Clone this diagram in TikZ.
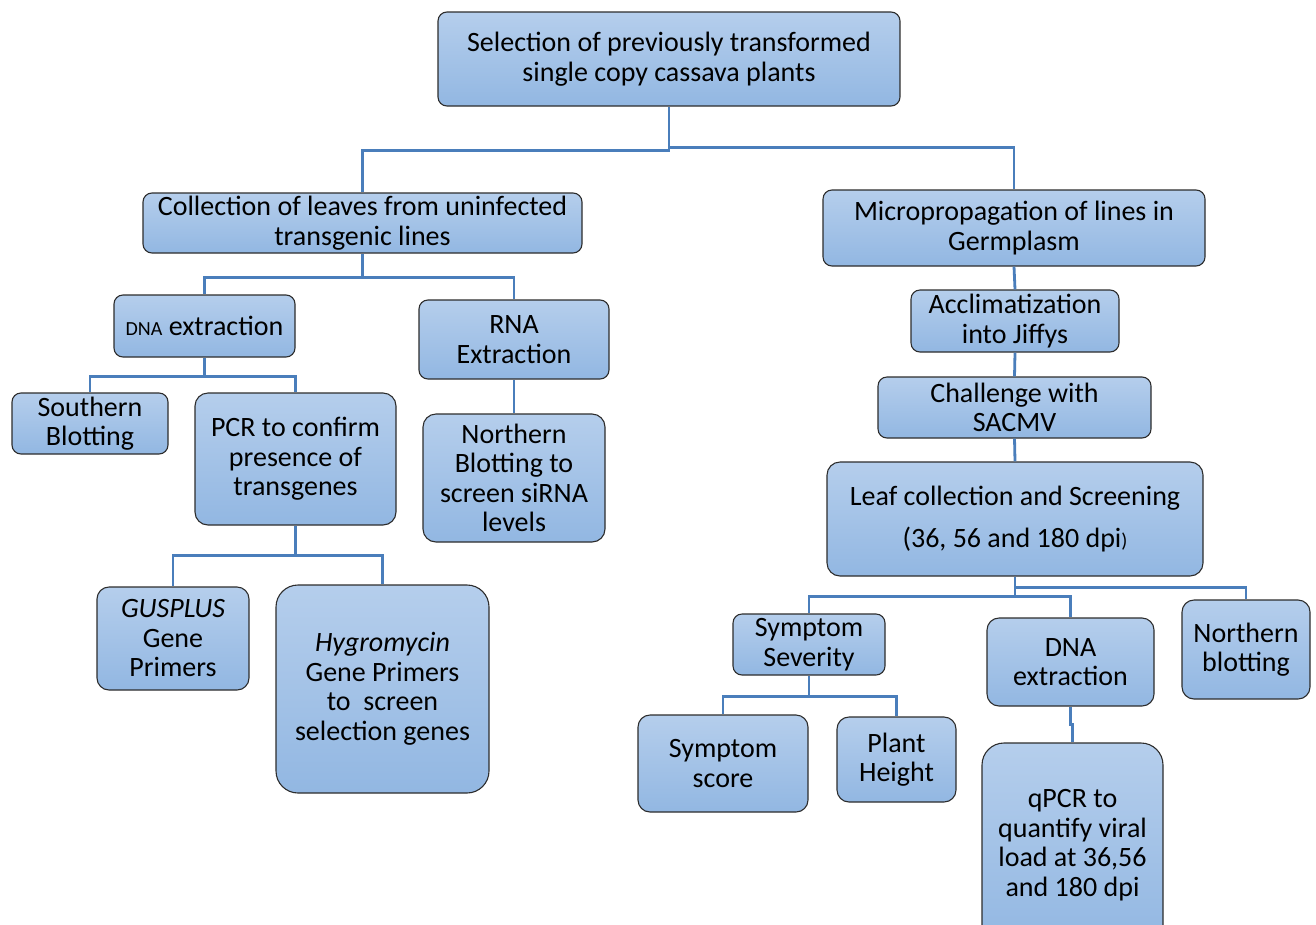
\documentclass[tikz,border=0pt]{standalone}
\usepackage{fontspec}
\setmainfont{Carlito}
\usetikzlibrary{calc}
\definecolor{boxtop}{RGB}{181,206,236}
\definecolor{boxbot}{RGB}{146,183,226}
\definecolor{conncol}{RGB}{74,126,187}
\definecolor{edgecol}{RGB}{45,45,45}
\tikzset{
  box/.style={draw=edgecol, line width=1.1pt, top color=boxtop, bottom color=boxbot,
    rounded corners=9pt, align=center, inner sep=0pt,
    font=\fontsize{28}{29.5}\selectfont},
  bigbox/.style={box, rounded corners=22pt},
  conn/.style={draw=conncol, line width=2.8pt},
}
\begin{document}
\begin{tikzpicture}[x=1pt,y=-1pt]
\clip (0,0) rectangle (1316,924);
\fill[white] (0,0) rectangle (1316,924);

% boxes
\node[box, minimum width=462, minimum height=94] (top) at (669,59) {Selection of previously transformed\\single copy cassava plants};
\node[box, minimum width=439, minimum height=60] (coll) at (362.5,223) {Collection of leaves from uninfected\\transgenic lines};
\node[box, minimum width=382, minimum height=76] (micro) at (1014,228) {Micropropagation of lines in\\Germplasm};
\node[box, minimum width=181, minimum height=62] (dnaA) at (204.5,326) {{\fontsize{20}{22}\selectfont DNA} extraction};
\node[box, minimum width=190, minimum height=79] (rna) at (514,339.5) {RNA\\Extraction};
\node[box, minimum width=156, minimum height=61] (south) at (90,423.5) {Southern\\Blotting};
\node[box, rounded corners=13pt, minimum width=201, minimum height=132] (pcr) at (295.5,459) {PCR to confirm\\presence of\\transgenes};
\node[box, rounded corners=13pt, minimum width=182, minimum height=128] (nbA) at (514,478) {Northern\\Blotting to\\screen siRNA\\levels};
\node[box, rounded corners=12pt, minimum width=152, minimum height=103] (gus) at (173,638.5) {\textit{GUSPLUS}\\Gene\\Primers};
\node[bigbox, minimum width=213, minimum height=208] (hyg) at (382.5,689) {\textit{Hygromycin}\\Gene Primers\\to\ \ screen\\selection genes};
\node[box, minimum width=208, minimum height=62] (accl) at (1015,321) {Acclimatization\\into Jiffys};
\node[box, minimum width=273, minimum height=61] (chal) at (1014.5,407.5) {Challenge with\\SACMV};
\node[box, rounded corners=13pt, minimum width=376, minimum height=114] (leaf) at (1015,519) {Leaf collection and Screening\\[13pt](36, 56 and 180 dpi{\fontsize{20}{22}\selectfont)}};
\node[box, minimum width=152, minimum height=61] (symsev) at (809,644.5) {Symptom\\Severity};
\node[box, rounded corners=12pt, minimum width=167, minimum height=88] (dnaB) at (1070.5,662) {DNA\\extraction};
\node[box, rounded corners=12pt, minimum width=128, minimum height=99] (nbB) at (1246,649.5) {Northern\\blotting};
\node[box, rounded corners=12pt, minimum width=170, minimum height=97] (score) at (723,763.5) {Symptom\\score};
\node[box, rounded corners=12pt, minimum width=119, minimum height=85] (height) at (896.5,759.5) {Plant\\Height};
\node[bigbox, minimum width=181, minimum height=204] (qpcr) at (1072.5,845) {qPCR to\\quantify viral\\load at 36,56\\and 180 dpi};

% connectors
\draw[conn] (top.south) -- ++(0,44) -| (coll.north);
\draw[conn] (top.south) -- ++(0,41) -| (micro.north);
\draw[conn] (coll.south) -- ++(0,24) -| (dnaA.north);
\draw[conn] (coll.south) -- ++(0,24) -| (rna.north);
\draw[conn] (dnaA.south) -- ++(0,19) -| (south.north);
\draw[conn] (dnaA.south) -- ++(0,19) -| (pcr.north);
\draw[conn] (rna.south) -- (nbA.north);
\draw[conn] (pcr.south) -- ++(0,30) -| (gus.north);
\draw[conn] (pcr.south) -- ++(0,30) -| (hyg.north);
\draw[conn] (micro.south) -- (accl.north);
\draw[conn] (accl.south) -- (chal.north);
\draw[conn] (chal.south) -- (leaf.north);
\draw[conn] (leaf.south) -- ++(0,20) -| (symsev.north);
\draw[conn] (leaf.south) -- ++(0,20) -| (dnaB.north);
\draw[conn] (leaf.south) -- ++(0,11) -| (nbB.north);
\draw[conn] (symsev.south) -- ++(0,21) -| (score.north);
\draw[conn] (symsev.south) -- ++(0,21) -| (height.north);
\draw[conn] (dnaB.south) -- ++(0,18) -| (qpcr.north);
\end{tikzpicture}
\end{document}
